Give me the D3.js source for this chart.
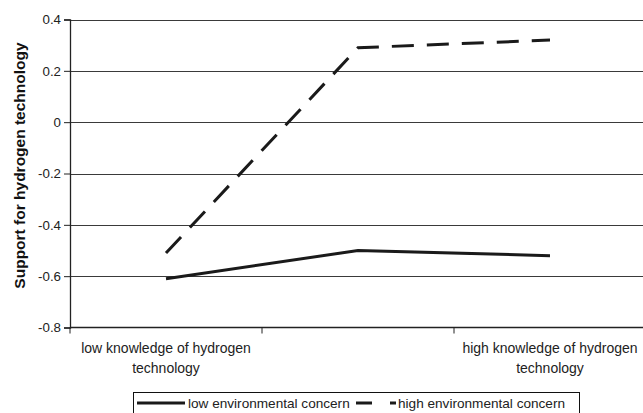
<!DOCTYPE html>
<html>
<head>
<meta charset="utf-8">
<script src="https://cdn.jsdelivr.net/npm/d3@7"></script>
<style>
  body { margin: 0; background: #fff; }
  svg { display: block; font-family: "Liberation Sans", Arial, sans-serif; }
</style>
</head>
<body>
<div id="chart"></div>
<script>
// data
const categories = ["low knowledge of hydrogen technology", "", "high knowledge of hydrogen technology"];
const lowConcern = [-0.61, -0.50, -0.52];
const highConcern = [-0.51, 0.29, 0.32];
const yTicks = [0.4, 0.2, 0, -0.2, -0.4, -0.6, -0.8];
const seriesNames = ["low environmental concern", "high environmental concern"];

const width = 643, height = 413;
const margin = {top: 19.5, left: 70, bottom: 85.5};

const svg = d3.select("#chart")
  .append("svg")
    .attr("width", width)
    .attr("height", height);

// x: three category bands, the last one runs past the right edge
const x = d3.scaleBand()
    .domain(d3.range(categories.length))
    .range([margin.left, margin.left + 3 * 192]);

const y = d3.scaleLinear()
    .domain([-0.8, 0.4])
    .range([height - margin.bottom, margin.top]);

// gridlines
svg.append("g")
  .selectAll("line")
  .data(yTicks.filter(d => d !== -0.8))
  .join("line")
    .attr("x1", margin.left)
    .attr("x2", width)
    .attr("y1", d => Math.round(y(d)) + 0.5)
    .attr("y2", d => Math.round(y(d)) + 0.5)
    .attr("stroke", "#3a3a3a")
    .attr("stroke-width", 1);

// y axis
const yAxis = svg.append("g")
    .attr("transform", `translate(${margin.left},0)`)
    .call(d3.axisLeft(y).tickValues(yTicks).tickSize(6).tickPadding(3)
      .tickFormat(d => d === 0 ? "0" : d3.format(".1f")(d).replace("−", "-")));
yAxis.select(".domain").attr("stroke", "#222").attr("stroke-width", 1.3);
yAxis.selectAll(".tick line").attr("stroke", "#222");
yAxis.selectAll("text").attr("font-size", 13.3).attr("fill", "#222")
    .attr("font-family", "Liberation Sans, Arial, sans-serif");

// x axis (bottom), ticks at band boundaries
const xEdges = categories.map((c, i) => x(i));
const xAxisG = svg.append("g");
xAxisG.append("line")
    .attr("x1", margin.left).attr("x2", width)
    .attr("y1", y(-0.8)).attr("y2", y(-0.8))
    .attr("stroke", "#222").attr("stroke-width", 1.6);
xAxisG.selectAll("line.tk")
  .data(xEdges)
  .join("line")
    .attr("class", "tk")
    .attr("x1", d => d).attr("x2", d => d)
    .attr("y1", y(-0.8)).attr("y2", y(-0.8) + 6)
    .attr("stroke", "#222");

// category labels, wrapped in two lines
xAxisG.selectAll("text.cat")
  .data(categories)
  .join("text")
    .attr("class", "cat")
    .attr("text-anchor", "middle")
    .attr("font-size", 14)
    .attr("fill", "#222")
    .each(function(d, i) {
      if (!d) return;
      const cx = x(i) + x.bandwidth() / 2;
      const parts = [d.replace(/ technology$/, ""), "technology"];
      d3.select(this).selectAll("tspan")
        .data(parts)
        .join("tspan")
          .attr("x", cx)
          .attr("y", (p, j) => y(-0.8) + 25 + j * 20)
          .text(p => p);
    });

// y title
svg.append("text")
    .attr("transform", `translate(21,${(y(0.4) + y(-0.8)) / 2 - 8}) rotate(-90)`)
    .attr("text-anchor", "middle")
    .attr("dominant-baseline", "middle")
    .attr("font-size", 15.5)
    .attr("font-weight", "bold")
    .attr("fill", "#111")
    .text("Support for hydrogen technology");

// lines
const line = d3.line()
    .x((d, i) => x(i) + x.bandwidth() / 2)
    .y(d => y(d));

svg.append("path")
    .datum(lowConcern)
    .attr("d", line)
    .attr("fill", "none")
    .attr("stroke", "#1a1a1a")
    .attr("stroke-width", 3);

svg.append("path")
    .datum(highConcern)
    .attr("d", line)
    .attr("fill", "none")
    .attr("stroke", "#1a1a1a")
    .attr("stroke-width", 3)
    .attr("stroke-dasharray", "22,13");

// legend
const lg = svg.append("g");
lg.append("rect")
    .attr("x", 133.5).attr("y", 392.5)
    .attr("width", 446).attr("height", 30)
    .attr("fill", "none").attr("stroke", "#111");
lg.append("line")
    .attr("x1", 137).attr("x2", 185).attr("y1", 403).attr("y2", 403)
    .attr("stroke", "#1a1a1a").attr("stroke-width", 3);
lg.append("text")
    .attr("x", 188).attr("y", 408)
    .attr("font-size", 13.6).attr("fill", "#222")
    .text(seriesNames[0]);
lg.append("line")
    .attr("x1", 356).attr("x2", 396).attr("y1", 403).attr("y2", 403)
    .attr("stroke", "#1a1a1a").attr("stroke-width", 3)
    .attr("stroke-dasharray", "16,18,6");
lg.append("text")
    .attr("x", 398).attr("y", 408)
    .attr("font-size", 13.6).attr("fill", "#222")
    .text(seriesNames[1]);
</script>
</body>
</html>
